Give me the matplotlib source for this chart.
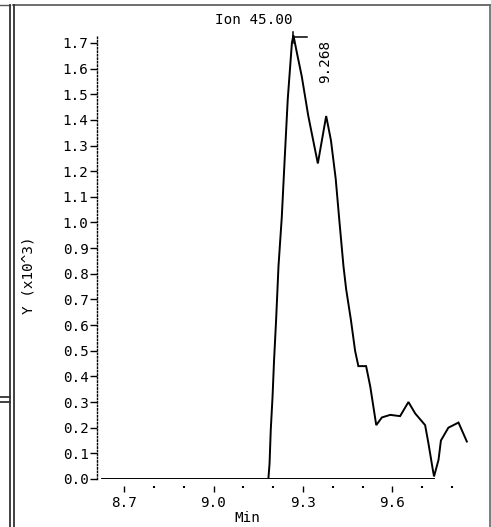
import numpy as np
import matplotlib.pyplot as plt
from matplotlib.lines import Line2D

# chromatogram, ion 45.00 (retention time in min, abundance x10^3)
rt = [8.626, 9.184, 9.188, 9.192, 9.198, 9.203, 9.210, 9.218, 9.229, 9.238,
      9.249, 9.263, 9.268, 9.280, 9.296, 9.318, 9.350, 9.378, 9.394, 9.410,
      9.422, 9.436, 9.445, 9.461, 9.475, 9.486, 9.512, 9.526, 9.546, 9.565,
      9.593, 9.626, 9.654, 9.677, 9.710, 9.721, 9.736, 9.740, 9.755, 9.763,
      9.788, 9.822, 9.850]
abund = [0.0, 0.0, 0.06, 0.19, 0.32, 0.46, 0.62, 0.83, 1.02, 1.23,
         1.48, 1.70, 1.73, 1.66, 1.57, 1.415, 1.23, 1.415, 1.32, 1.17,
         1.01, 0.83, 0.74, 0.62, 0.50, 0.44, 0.44, 0.36, 0.21, 0.24,
         0.25, 0.245, 0.30, 0.255, 0.21, 0.14, 0.035, 0.01, 0.075, 0.15,
         0.20, 0.22, 0.146]

peak_rt = 9.268
peak_label = "9.268"
peak_start, peak_end = 9.184, 9.740

xticks = [8.7, 9.0, 9.3, 9.6]
xtick_labels = ["8.7", "9.0", "9.3", "9.6"]
minor_xticks = [8.8, 8.9, 9.1, 9.2, 9.4, 9.5, 9.7, 9.8]
yticks = [i / 10 for i in range(18)]

W, H = 491, 527
mono = "DejaVu Sans Mono"
fs = 10.3

fig = plt.figure(figsize=(W / 100, H / 100), dpi=100)

# axes placed by pixel positions of the reference
left, right, bottom, top = 97, 488, 479, 27.5
ax = fig.add_axes([left / W, 1 - bottom / H, (right - left) / W, (bottom - top) / H])
ax.set_xlim(8.609, 9.921)
ax.set_ylim(0, 1.76)

ax.plot(rt, abund, color="black", lw=1.4, solid_joinstyle="miter")
ax.plot([peak_start, peak_end], [0, 0], color="black", lw=1.4)

# peak apex marker and retention time label
pk = max(abund)
ax.plot([peak_rt, peak_rt], [pk - 0.03, pk + 0.012], color="black", lw=1.1)
ax.plot([peak_rt, peak_rt + 0.047], [pk - 0.008, pk - 0.008], color="black", lw=1.1)
ax.text(9.374, 1.545, peak_label, rotation=90, ha="center", va="bottom",
        fontsize=fs, family=mono)

for s in ["top", "right"]:
    ax.spines[s].set_visible(False)
ax.spines["left"].set_linestyle((0, (1, 1.5)))
ax.spines["left"].set_linewidth(1.0)
ax.spines["left"].set_bounds(0, 1.725)
ax.spines["bottom"].set_visible(False)
ax.spines["bottom"].set_position(("outward", 5))

ax.set_yticks(yticks)
ax.set_yticklabels([f"{v:.1f}" for v in yticks], family=mono, fontsize=fs)
ax.tick_params(axis="y", direction="out", length=5, width=1.0, pad=1)

ax.set_xticks(xticks)
ax.set_xticklabels(xtick_labels, family=mono, fontsize=fs)
ax.set_xticks(minor_xticks, minor=True)
ax.tick_params(axis="x", which="major", direction="out", length=4, width=1.0, pad=3)
ax.tick_params(axis="x", which="minor", direction="out", length=1.2, width=1.5)

fig.text(254 / W, 1 - 20 / H, "Ion 45.00", ha="center", va="center",
         fontsize=fs, family=mono)
fig.text(247 / W, 1 - 518 / H, "Min", ha="center", va="center",
         fontsize=fs, family=mono)
fig.text(28 / W, 1 - 275 / H, "Y (x10^3)", ha="center", va="center",
         rotation=90, fontsize=fs, family=mono)


def px_line(xs, ys, color="black", lw=1.3):
    fig.add_artist(Line2D([x / W for x in xs], [1 - y / H for y in ys],
                          transform=fig.transFigure, color=color, lw=lw))


# panel frame
px_line([0, 10], [5, 5], color="#555555", lw=1.0)
px_line([13, 490], [5, 5], color="#555555", lw=1.2)
px_line([10, 10], [5, 527], color="#333333", lw=1.3)
px_line([14, 14], [5, 527], color="#333333", lw=1.3)
px_line([490, 490], [5, 527], color="#666666", lw=1.2)
px_line([0, 10], [397, 397], color="#333333", lw=1.3)
px_line([0, 10], [402, 402], color="#333333", lw=1.3)

fig.savefig("out.png", dpi=100)
